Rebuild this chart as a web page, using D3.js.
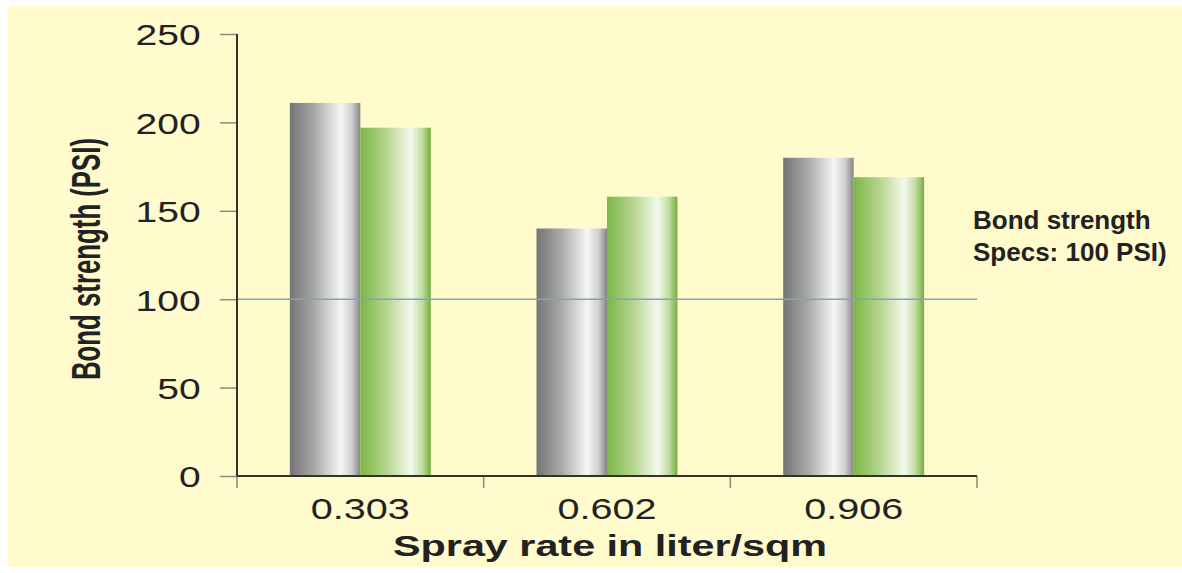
<!DOCTYPE html>
<html>
<head>
<meta charset="utf-8">
<script src="https://cdn.jsdelivr.net/npm/d3@7"></script>
<style>
  html, body { margin: 0; padding: 0; background: #ffffff; }
  svg { display: block; }
  text { font-family: "Liberation Sans", Arial, sans-serif; fill: #222; }
</style>
</head>
<body>
<svg id="chart" width="1182" height="573"></svg>
<script>
// Spray rate categories (liter/sqm)
const categories = ["0.303", "0.602", "0.906"];
// Two test series of bond strength (PSI)
const seriesNames = ["grey", "green"];
const greyValues = [211, 140, 180];
const greenValues = [197, 158, 169];
const yTicks = [0, 50, 100, 150, 200, 250];
const specValue = 100;

const svg = d3.select("#chart");
const W = 1182, H = 573;

// panel background
svg.append("rect").attr("x", 8).attr("y", 6).attr("width", W - 8).attr("height", H - 12)
  .attr("fill", "#fffbcc");

const x0 = d3.scaleBand().domain(categories).range([237, 977]).paddingInner(0).paddingOuter(0);
const x1 = d3.scaleBand().domain(seriesNames).range([0, x0.bandwidth()]).paddingInner(0).paddingOuter(0.75);
const y = d3.scaleLinear().domain([0, 250]).range([476, 34]);

// gradients giving bars a cylindrical sheen
const defs = svg.append("defs");
function grad(id, stops) {
  const g = defs.append("linearGradient").attr("id", id).attr("x1", "0%").attr("x2", "100%").attr("y1", "0%").attr("y2", "0%");
  stops.forEach(([o, c]) => g.append("stop").attr("offset", o).attr("stop-color", c));
}
grad("gGrey", [["0%", "#747474"], ["35%", "#a9a9a9"], ["72%", "#f6f6f6"], ["88%", "#cfcfcf"], ["100%", "#858585"]]);
grad("gGreen", [["0%", "#7db646"], ["35%", "#b1d38a"], ["72%", "#f4f9ec"], ["88%", "#c0dca0"], ["100%", "#76ae3e"]]);

const fills = { grey: "url(#gGrey)", green: "url(#gGreen)" };
const rows = categories.map((c, i) => ({ cat: c, grey: greyValues[i], green: greenValues[i] }));

// bars
const groups = svg.append("g").selectAll("g").data(rows).join("g")
  .attr("transform", d => `translate(${x0(d.cat)},0)`);
groups.selectAll("rect").data(d => seriesNames.map(s => ({ s, v: d[s] }))).join("rect")
  .attr("x", d => x1(d.s))
  .attr("width", x1.bandwidth())
  .attr("y", d => y(d.v))
  .attr("height", d => y(0) - y(d.v))
  .attr("fill", d => fills[d.s]);

// spec line
svg.append("line")
  .attr("x1", 237).attr("x2", 977)
  .attr("y1", y(specValue)).attr("y2", y(specValue))
  .attr("stroke", "#7fa5bd").attr("stroke-width", 1.5);

// y axis
const yAxis = svg.append("g").attr("transform", "translate(237,0)")
  .call(d3.axisLeft(y).tickValues(yTicks).tickSize(17).tickPadding(0));
yAxis.select(".domain").remove();
yAxis.selectAll(".tick line").attr("stroke", "#8a8a80").attr("stroke-width", 1.5);
yAxis.selectAll(".tick text")
  .attr("font-size", 30).attr("x", -28).attr("dy", "0.36em")
  .attr("transform", "scale(1.3,1)")
  .style("font-family", "'Liberation Sans', Arial, sans-serif").attr("fill", "#222");
svg.append("line").attr("x1", 237).attr("x2", 237).attr("y1", y(250)).attr("y2", y(0))
  .attr("stroke", "#333328").attr("stroke-width", 2);

// x axis: boundary ticks plus centred category labels
const xAxis = svg.append("g").attr("transform", `translate(0,${y(0)})`);
const bounds = categories.map(c => x0(c)).concat([x0.range()[1]]);
xAxis.selectAll("line.tk").data(bounds).join("line").attr("class", "tk")
  .attr("x1", d => d).attr("x2", d => d).attr("y1", 0).attr("y2", 12)
  .attr("stroke", "#8a8a80").attr("stroke-width", 1.5);
xAxis.append("line").attr("x1", 237).attr("x2", 977).attr("y1", 0).attr("y2", 0)
  .attr("stroke", "#333328").attr("stroke-width", 2);
xAxis.selectAll("text.lb").data(categories).join("text").attr("class", "lb")
  .attr("transform", d => `translate(${x0(d) + x0.bandwidth() / 2},43) scale(1.32,1)`)
  .attr("text-anchor", "middle").attr("font-size", 30)
  .text(d => d);

// axis titles
svg.append("text").attr("x", 610).attr("y", 556).attr("text-anchor", "middle")
  .attr("font-size", 30).attr("font-weight", "bold")
  .attr("textLength", 434).attr("lengthAdjust", "spacingAndGlyphs")
  .text("Spray rate in liter/sqm");

svg.append("text").attr("transform", "translate(100,259) rotate(-90)")
  .attr("text-anchor", "middle").attr("font-size", 40).attr("font-weight", "bold")
  .style("font-family", "'Liberation Sans Narrow', 'Arial Narrow', 'Liberation Sans', sans-serif")
  .attr("textLength", 242).attr("lengthAdjust", "spacingAndGlyphs")
  .text("Bond strength (PSI)");

// spec annotation
const note = svg.append("text").attr("font-size", 26).attr("font-weight", "bold").attr("fill", "#111");
note.append("tspan").attr("x", 973).attr("y", 229).text("Bond strength");
note.append("tspan").attr("x", 973).attr("y", 261).text("Specs: 100 PSI)");
</script>
</body>
</html>
